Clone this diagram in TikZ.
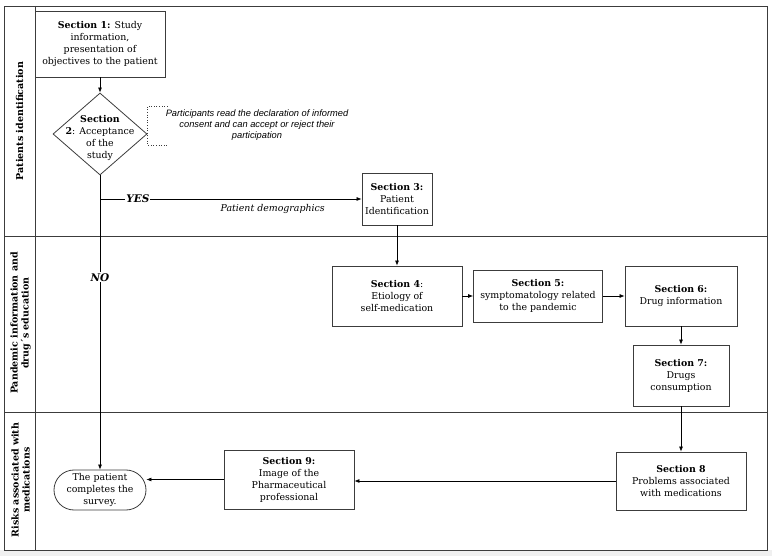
\documentclass[tikz,border=0pt]{standalone}
\usepackage{fontspec}
\setmainfont{DejaVu Serif}
\newfontfamily\notefont{Liberation Sans}
\usetikzlibrary{arrows.meta, positioning, shapes.geometric, shapes.misc}
\definecolor{edge}{RGB}{60,60,60}
\definecolor{stripgray}{RGB}{240,240,240}

\begin{document}
\begin{tikzpicture}[x=1pt, y=-1pt,
  every node/.style={font=\fontsize{9.4}{12}\selectfont, align=center},
  sect/.style={draw=edge, line width=0.8pt, inner sep=1pt},
  decide/.style={draw=edge, line width=0.8pt, diamond, inner sep=0pt, minimum width=94pt, minimum height=82pt},
  term/.style={draw=edge, line width=0.8pt, rounded rectangle, inner sep=1pt, minimum width=94pt, minimum height=40pt},
  flow/.style={draw=black, line width=0.7pt, -{Latex[length=5pt, width=4pt]}},
  lane/.style={rotate=90, font=\fontsize{9.5}{11}\selectfont\bfseries},
  lanerule/.style={draw=edge, line width=0.8pt}]
  \useasboundingbox (0,0) rectangle (772,556);
  \fill[stripgray] (0,550) rectangle (772,556);

  % lanes
  \draw[lanerule] (4,6) rectangle (767,550);
  \draw[lanerule] (35,6) -- (35,550);
  \draw[lanerule] (4,236) -- (767,236);
  \draw[lanerule] (4,412) -- (767,412);
  \node[lane] (laneA) at (19.5,121) {Patients identification};
  \node[lane] (laneB) at (20.5,323) {Pandemic information and\\drug´s education};
  \node[lane] (laneC) at (20.5,480) {Risks associated with\\medications};

  % sections
  \node[sect, minimum width=130pt, minimum height=66pt] (s1) at (100,44) {\textbf{Section 1:} Study\\information,\\presentation of\\objectives to the patient};
  \node[decide] (dec) at (100,134) {};
  \node (dectext) at (100,138) {\textbf{Section}\\\textbf{2}: Acceptance\\of the\\study};
  \node[sect, minimum width=70pt, minimum height=52pt] (s3) at (397,199) {\textbf{Section 3:}\\Patient\\Identification};
  \node[sect, minimum width=130pt, minimum height=60pt] (s4) at (397,296) {\textbf{Section 4}:\\Etiology of\\self-medication};
  \node[sect, minimum width=129pt, minimum height=52pt] (s5) at (538,296) {\textbf{Section 5:}\\symptomatology related\\to the pandemic};
  \node[sect, minimum width=112pt, minimum height=60pt] (s6) at (681,296) {\textbf{Section 6:}\\Drug information};
  \node[sect, minimum width=96pt, minimum height=61pt] (s7) at (681,375.5) {\textbf{Section 7:}\\Drugs\\consumption};
  \node[sect, minimum width=130pt, minimum height=58pt] (s8) at (681,481) {\textbf{Section 8}\\Problems associated\\with medications};
  \node[sect, minimum width=130pt, minimum height=59pt] (s9) at (289,479.5) {\textbf{Section 9:}\\Image of the\\Pharmaceutical\\professional};
  \node[term] (end) at (100,490) {The patient\\completes the\\survey.};

  % note on consent
  \node[font=\notefont\itshape\fontsize{9.3}{11}\selectfont] (note) at (257,125) {Participants read the declaration of informed\\consent and can accept or reject their\\participation};
  \draw[edge, dotted, line width=0.6pt] ([shift={(20,-28)}]dec.east) -| ([shift={(0,11)}]dec.east) -- ++(20,0);

  % connectors
  \coordinate (yes) at (dec.south |- s3.west);
  \draw[flow] (s1) -- (dec);
  \draw[flow] (yes) -- (s3.west)
    node[pos=0.145, fill=white, inner sep=1pt, font=\fontsize{10.5}{12}\selectfont\bfseries\itshape] {YES}
    node[pos=0.66, below=2pt, font=\fontsize{9.4}{12}\selectfont\itshape] {Patient demographics};
  \draw[flow] (dec.south) -- (end.north)
    node[pos=0.346, fill=white, inner sep=1pt, font=\fontsize{10.5}{12}\selectfont\bfseries\itshape] {NO};
  \draw[flow] (s3) -- (s4);
  \draw[flow] (s4) -- (s5);
  \draw[flow] (s5) -- (s6);
  \draw[flow] (s6) -- (s7);
  \draw[flow] (s7) -- (s8);
  \draw[flow] (s8.west) -- (s8.west -| s9.east);
  \draw[flow] (s9.west) -- (s9.west -| end.east);
\end{tikzpicture}
\end{document}
